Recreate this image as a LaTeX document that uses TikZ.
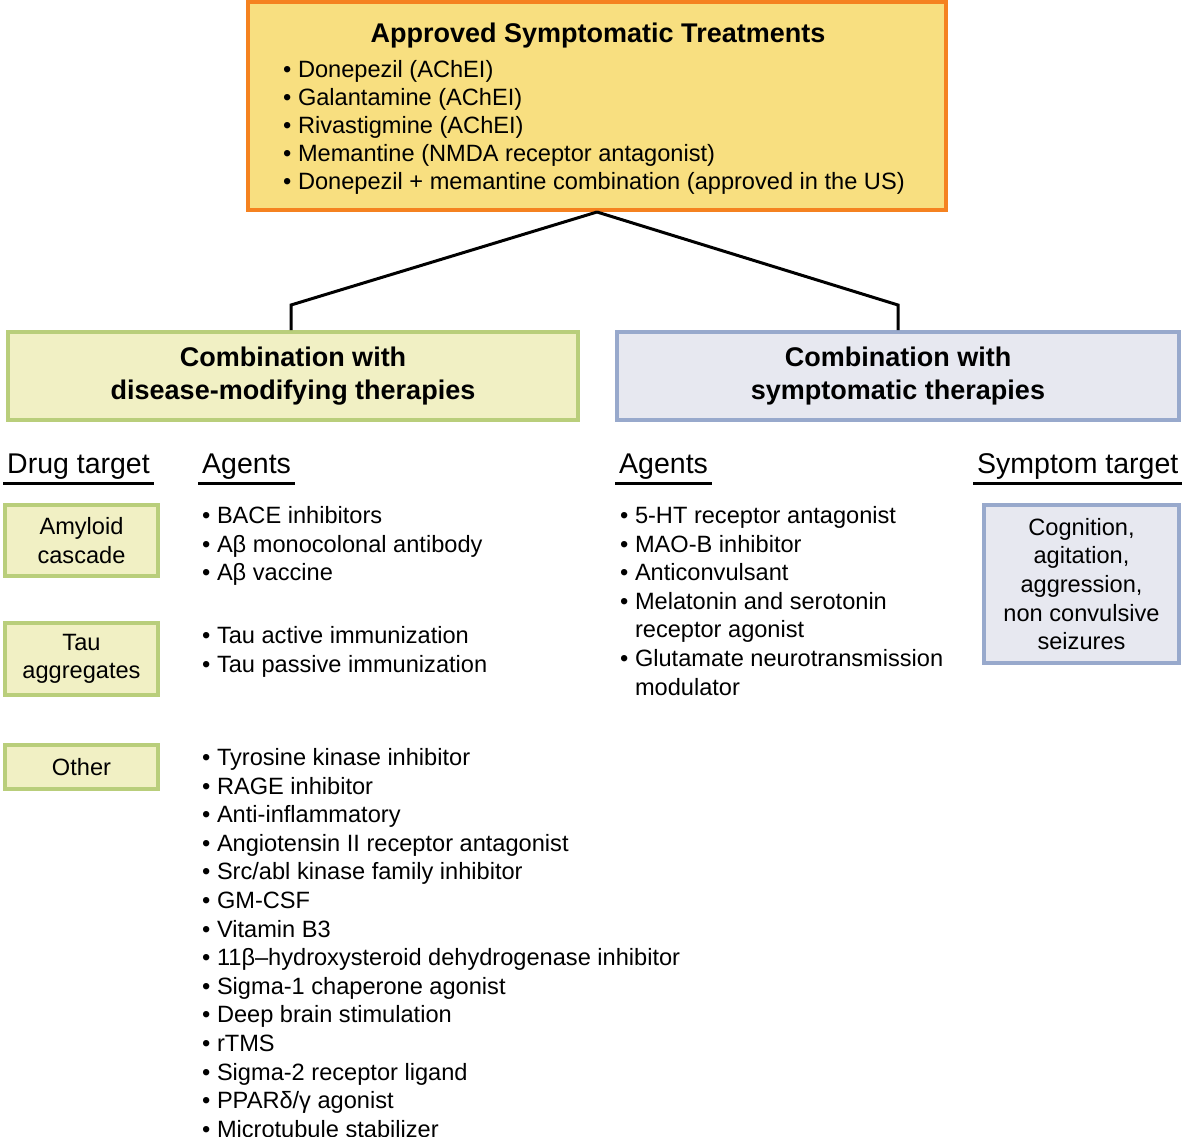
\documentclass[tikz,border=0pt]{standalone}
\usepackage{fontspec}
\setmainfont{Liberation Sans}
\definecolor{apprfill}{HTML}{F8DF80}
\definecolor{apprline}{HTML}{F58220}
\definecolor{dmtfill}{HTML}{F1F0C4}
\definecolor{dmtline}{HTML}{B9CE7B}
\definecolor{symfill}{HTML}{E7E8F0}
\definecolor{symline}{HTML}{98A9CC}
\tikzset{
  box/.style={draw,line width=4pt,inner sep=0pt,align=center},
  dmtbox/.style={box,draw=dmtline,fill=dmtfill},
  symbox/.style={box,draw=symline,fill=symfill},
  body/.style={font=\fontsize{23.6}{28.6}\selectfont},
  bold/.style={font=\bfseries\fontsize{27}{33}\selectfont},
  hdr/.style={anchor=base west,inner sep=0pt,font=\fontsize{28.5}{34}\selectfont},
  item/.style={body,anchor=base west,inner sep=0pt},
  uline/.style={line width=3pt},
  link/.style={line width=3pt}
}
\begin{document}
\begin{tikzpicture}[x=1pt,y=-1pt]
\useasboundingbox (0,0) rectangle (1182,1136);

\node (appr) [box,draw=apprline,fill=apprfill,minimum width=698pt,minimum height=208pt] at (597,106) {};
\node (apprhd) [bold,anchor=base,inner sep=0pt] at (598,42.7) {Approved Symptomatic Treatments};
\foreach \t [count=\i] in {{Donepezil (AChEI)},{Galantamine (AChEI)},{Rivastigmine (AChEI)},{Memantine (NMDA receptor antagonist)},{Donepezil + memantine combination (approved in the US)}}
  \node (appr\i) [item] at (283,{77.5+28*(\i-1)}) {• \t};

\node (dmt) [dmtbox,bold,minimum width=570pt,minimum height=88pt] at (293,376) {Combination with\\disease-modifying therapies};
\node (sym) [symbox,bold,minimum width=562pt,minimum height=88pt] at (898,376) {Combination with\\symptomatic therapies};

\coordinate (lk) at (291,305);
\coordinate (rk) at (898,305);
\draw[link] (appr.south) -- (lk) -- (lk |- dmt.north);
\draw[link] (appr.south) -- (rk) -- (rk |- sym.north);

\node (drg) [hdr] at (7,473) {Drug target};
\node (agl) [hdr] at (202,473) {Agents};
\node (agr) [hdr] at (619,473) {Agents};
\node (smt) [hdr] at (977,473) {Symptom target};
\foreach \h in {drg,agl,agr,smt}
  \draw[uline] ([xshift=-4pt,yshift=-10pt]\h.base west) -- ([xshift=4pt,yshift=-10pt]\h.base east);

\node (amy) [dmtbox,body,minimum width=153pt,minimum height=71pt] at (81.5,540.5) {Amyloid\\cascade};
\node (tau) [dmtbox,body,minimum width=153pt,minimum height=72pt] at (81.5,659) {Tau\\aggregates};
\node (oth) [dmtbox,body,minimum width=153pt,minimum height=44pt] at (81.5,767) {Other};

\foreach \t [count=\i] in {BACE inhibitors,Aβ monocolonal antibody,Aβ vaccine}
  \node (amy\i) [item] at (202,{523.5+28.6*(\i-1)}) {• \t};
\foreach \t [count=\i] in {Tau active immunization,Tau passive immunization}
  \node (tau\i) [item] at (202,{643.5+28.6*(\i-1)}) {• \t};
\foreach \t [count=\i] in {Tyrosine kinase inhibitor,RAGE inhibitor,Anti-inflammatory,Angiotensin II receptor antagonist,Src/abl kinase family inhibitor,GM-CSF,Vitamin B3,11β–hydroxysteroid dehydrogenase inhibitor,Sigma-1 chaperone agonist,Deep brain stimulation,rTMS,Sigma-2 receptor ligand,PPARδ/γ agonist,Microtubule stabilizer}
  \node (oth\i) [item] at (202,{765.5+28.6*(\i-1)}) {• \t};

\foreach \t [count=\i] in {• 5-HT receptor antagonist,• MAO-B inhibitor,• Anticonvulsant,• Melatonin and serotonin,\hphantom{• }receptor agonist,• Glutamate neurotransmission,\hphantom{• }modulator}
  \node (sag\i) [item] at (620,{523.5+28.6*(\i-1)}) {\t};

\node (cog) [symbox,body,minimum width=195pt,minimum height=158pt] at (1081.5,584) {Cognition,\\agitation,\\aggression,\\non convulsive\\seizures};
\end{tikzpicture}
\end{document}
